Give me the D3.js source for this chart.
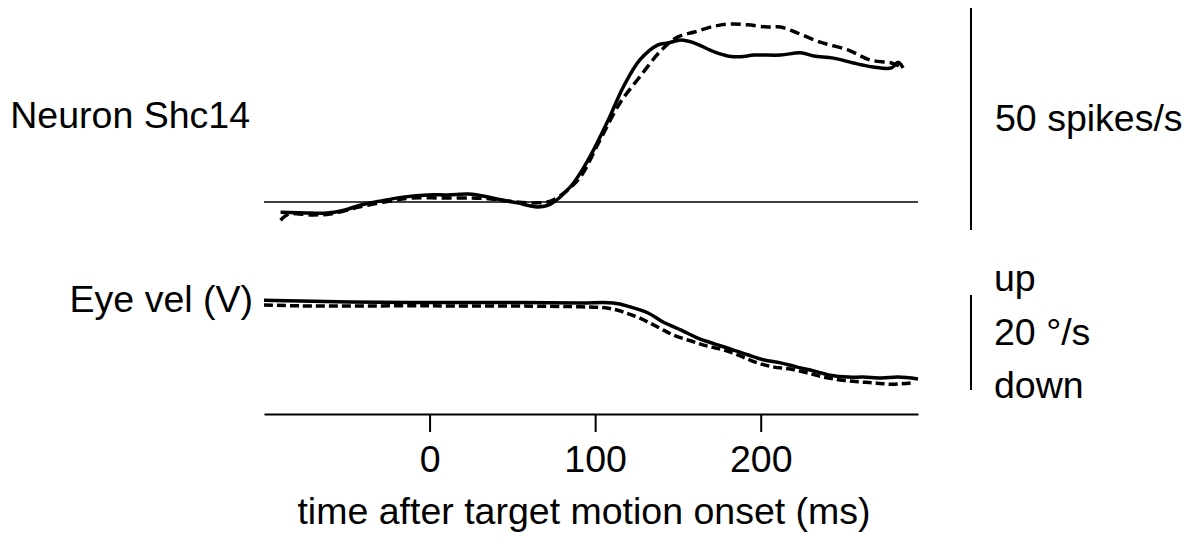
<!DOCTYPE html>
<html>
<head>
<meta charset="utf-8">
<script src="https://cdn.jsdelivr.net/npm/d3@7/dist/d3.min.js"></script>
<style>
  html, body { margin: 0; padding: 0; background: #fff; }
  svg text { font-family: "Liberation Sans", Arial, Helvetica, sans-serif; fill: #000; }
</style>
</head>
<body>
<svg id="chart" width="1194" height="540"></svg>
<script>
// ---- Data (time in ms after target motion onset) ----
// Neuron firing rate, change from baseline (spikes/s)
const neuronSolidT = [-90,-72,-62,-51,-42,-30,-16,-1,11,23,29,43,53,65,73,85,91,99,108,117,127,138,144,152,160,172,180,188,196,212,224,232,244,256,268,279,283,286];
const neuronSolidV = [-2.3,-2.5,-2.5,-1.8,-0.7,0.2,1.1,1.6,1.6,1.8,1.6,0.5,-0.2,-1.1,-0.5,3.4,6.5,11.7,18.5,25.9,32.0,35.4,35.8,36.5,35.8,33.8,32.9,32.7,33.1,33.1,33.6,32.9,32.4,31.3,30.4,30.2,31.5,30.2];
const neuronDashT = [-90,-85,-72,-60,-42,-24,-11,7,25,37,52,64,73,82,91,103,115,127,140,150,160,172,182,192,204,212,222,236,253,266,279,286];
const neuronDashV = [-4.1,-2.7,-2.9,-2.7,-1.1,0.2,0.9,0.9,0.9,0.7,0.0,-0.2,0.2,2.3,5.6,14.0,22.3,28.2,34.2,37.2,38.3,39.6,40.1,39.9,39.4,39.4,38.1,36.0,34.2,32.0,31.3,30.2];
// Vertical eye velocity (deg/s, up positive)
const eyeSolidT = [-100,-78,-48,1,55,91,111,121,132,141,152,162,172,182,192,202,212,222,232,242,253,262,273,283,295];
const eyeSolidV = [0.6,0.4,0.2,0.1,0.1,0,0,-0.8,-2.1,-4.0,-5.7,-7.4,-8.6,-9.7,-10.9,-12.0,-12.6,-13.5,-14.3,-15.2,-15.6,-15.6,-15.8,-15.6,-16.0];
const eyeDashT = [-100,-78,1,91,108,117,127,138,147,158,168,178,188,198,208,218,228,238,248,259,268,279,292];
const eyeDashV = [-0.4,-0.6,-0.6,-0.8,-1.1,-1.9,-3.2,-5.1,-6.7,-8.0,-9.1,-9.9,-11.2,-12.6,-13.5,-13.9,-14.7,-15.6,-16.2,-16.6,-16.8,-17.1,-16.8];
// Axis ticks and labels
const timeTicks = [0, 100, 200];
const neuronLabel = "Neuron Shc14";
const eyeLabel = "Eye vel (V)";
const xTitle = "time after target motion onset (ms)";
const neuronScaleText = ["50 spikes/s"];
const eyeScaleText = ["up", "20 °/s", "down"];
const neuronScaleBar = [-6.3, 43.7];   // 50 spikes/s
const eyeScaleBar = [-18.3, 1.7];      // 20 deg/s

const FS = 37.5;

// ---- Scales ----
const svg = d3.select("#chart");
const x = d3.scaleLinear().domain([-100, 295]).range([264, 918]);
const yN = d3.scaleLinear().domain([0, 50]).range([202, 202 - 222]);
const yE = d3.scaleLinear().domain([0, 20]).range([303, 303 - 95]);

const zip = (t, v) => t.map((d, i) => [d, v[i]]);
const lineN = d3.line().x(d => x(d[0])).y(d => yN(d[1])).curve(d3.curveCatmullRom.alpha(0.5));
const lineE = d3.line().x(d => x(d[0])).y(d => yE(d[1])).curve(d3.curveCatmullRom.alpha(0.5));

// Baseline in neuron panel
svg.append("line")
  .attr("x1", x(-100)).attr("x2", x(295))
  .attr("y1", yN(0)).attr("y2", yN(0))
  .attr("stroke", "#000").attr("stroke-width", 1.5);

// Neuron traces
svg.append("path").datum(zip(neuronSolidT, neuronSolidV))
  .attr("d", lineN).attr("fill", "none").attr("stroke", "#000")
  .attr("stroke-width", 3.5).attr("stroke-linejoin", "round");
svg.append("path").datum(zip(neuronDashT, neuronDashV))
  .attr("d", lineN).attr("fill", "none").attr("stroke", "#000")
  .attr("stroke-width", 3.5).attr("stroke-dasharray", "10,5");

// Eye traces
svg.append("path").datum(zip(eyeSolidT, eyeSolidV))
  .attr("d", lineE).attr("fill", "none").attr("stroke", "#000")
  .attr("stroke-width", 3.5).attr("stroke-linejoin", "round");
svg.append("path").datum(zip(eyeDashT, eyeDashV))
  .attr("d", lineE).attr("fill", "none").attr("stroke", "#000")
  .attr("stroke-width", 3.5).attr("stroke-dasharray", "9,4");

// X axis
const xAxis = d3.axisBottom(x).tickValues(timeTicks).tickSize(18).tickPadding(10).tickSizeOuter(0);
const gx = svg.append("g").attr("transform", "translate(0,414)").call(xAxis);
gx.select(".domain").attr("stroke", "#000").attr("stroke-width", 2);
gx.selectAll(".tick line").attr("stroke", "#000").attr("stroke-width", 2);
gx.selectAll(".tick text").attr("font-size", FS).attr("font-family", "Liberation Sans, Arial, sans-serif")
  .attr("dy", null).attr("y", 58);

svg.append("text").attr("x", 584).attr("y", 524).attr("text-anchor", "middle")
  .attr("font-size", FS).text(xTitle);

// Panel labels
svg.append("text").attr("x", 250).attr("y", 128).attr("text-anchor", "end")
  .attr("font-size", FS).text(neuronLabel);
svg.append("text").attr("x", 253).attr("y", 312).attr("text-anchor", "end")
  .attr("font-size", FS).text(eyeLabel);

// Scale bars
svg.append("line").attr("x1", 971).attr("x2", 971)
  .attr("y1", yN(neuronScaleBar[0])).attr("y2", yN(neuronScaleBar[1]))
  .attr("stroke", "#000").attr("stroke-width", 2);
svg.append("text").attr("x", 995).attr("y", 131).attr("font-size", FS).text(neuronScaleText[0]);

svg.append("line").attr("x1", 971).attr("x2", 971)
  .attr("y1", yE(eyeScaleBar[0])).attr("y2", yE(eyeScaleBar[1]))
  .attr("stroke", "#000").attr("stroke-width", 2);
const eyeBaselines = [291, 345, 398];
svg.selectAll("text.eyescale").data(eyeScaleText).enter().append("text")
  .attr("class", "eyescale").attr("x", 994).attr("y", (d, i) => eyeBaselines[i])
  .attr("font-size", FS).text(d => d);
</script>
</body>
</html>
